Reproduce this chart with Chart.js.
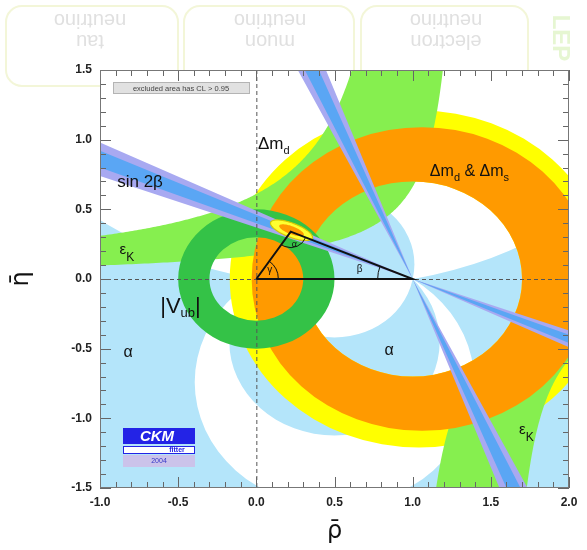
<!DOCTYPE html>
<html>
<head>
<meta charset="utf-8">
<title>CKM unitarity triangle constraints</title>
<script src="https://cdn.jsdelivr.net/npm/chart.js@4.4.1/dist/chart.umd.min.js"></script>
<style>
html,body{margin:0;padding:0;background:#fff;}
#box{width:587px;height:550px;}
</style>
</head>
<body>
<div id="box"><canvas id="ckm" width="587" height="550"></canvas></div>
<script>
// ---- axes ----
const rhoRange = [-1.0, 2.0];
const etaRange = [-1.5, 1.5];
const rhoTickLabels = [-1.0, -0.5, 0.0, 0.5, 1.0, 1.5, 2.0];
const etaTickLabels = [-1.5, -1.0, -0.5, 0.0, 0.5, 1.0, 1.5];

// ---- alpha: allowed ranges (degrees) of the angle seen from (rho, eta) ----
const alphaAbove = [[0, 11], [78, 180]];
const alphaBelow = [[0, 34], [48, 100]];

// ---- Delta m_d and Delta m_d & Delta m_s rings: [rho, eta, radius] ----
const dmdOuter = [1.04, 0.0, 1.21];
const dmdInner = [1.0, 0.0, 0.70];
const dmsOuter = [1.06, 0.0, 1.09];
const dmsInner = [1.0, 0.0, 0.70];

// ---- |Vub| ring around the origin: [inner, outer] radius ----
const vubRadii = [0.30, 0.50];

// ---- eps_K hyperbolae  eta * (a - rho) = k  as [a, k] ----
const epsUpperNear = [1.345, 0.228];
const epsUpperFar = [1.03, 0.629];
const epsLowerNear = [0.95, 0.30];
const epsLowerFar = [1.56, 0.255];

// ---- sin 2beta: tan(beta) limits ----
const sin2bWide = [0.37, 0.49];
const sin2bCore = [0.40, 0.46];

// ---- global fit ----
const apex = [0.22, 0.34];
const fitOuter = [0.225, 0.35, 0.145, 0.05];   // centre rho, eta, semi-axes
const fitInner = [0.225, 0.35, 0.085, 0.028];

const C = {
  alpha: '#b4e5fa', dmd: '#ffff00', dms: '#ff9a00', eps: '#86ef4f', vub: '#34c247',
  s2bWide: '#a8a9f1', s2bCore: '#5aa6f4', fitOuter: '#ffff30', fitInner: '#ff9a00'
};
const FONT = '"Liberation Sans", Arial, Helvetica, sans-serif';

function P(chart, r, e) {
  return [chart.scales.x.getPixelForValue(r), chart.scales.y.getPixelForValue(e)];
}

function addCircle(chart, ctx, cr, ce, rad) {
  const [px, py] = P(chart, cr, ce);
  const rx = Math.abs(chart.scales.x.getPixelForValue(cr + rad) - px);
  const ry = Math.abs(chart.scales.y.getPixelForValue(ce + rad) - py);
  ctx.moveTo(px + rx, py);
  ctx.ellipse(px, py, rx, ry, 0, 0, Math.PI * 2);
}

// region where the apex angle lies in [lo, hi] on one side of the rho axis
function fillAlpha(chart, ctx, side, lo, hi) {
  const a = chart.chartArea;
  const y0 = chart.scales.y.getPixelForValue(0);
  ctx.save();
  ctx.beginPath();
  if (side > 0) ctx.rect(a.left, a.top, a.width, y0 - a.top + 0.5);
  else ctx.rect(a.left, y0 - 0.5, a.width, a.bottom - y0 + 0.5);
  ctx.clip();
  ctx.beginPath();
  const circ = deg => {
    const t = deg * Math.PI / 180;
    addCircle(chart, ctx, 0.5, side * 0.5 / Math.tan(t), 0.5 / Math.sin(t));
  };
  if (lo > 0) circ(lo); else ctx.rect(a.left - 5, a.top - 5, a.width + 10, a.height + 10);
  if (hi < 180) circ(hi);
  ctx.fillStyle = C.alpha;
  ctx.fill('evenodd');
  ctx.restore();
}

function fillRing(chart, ctx, outer, inner, color) {
  ctx.beginPath();
  addCircle(chart, ctx, outer[0], outer[1], outer[2]);
  addCircle(chart, ctx, inner[0], inner[1], inner[2]);
  ctx.fillStyle = color;
  ctx.fill('evenodd');
}

function hyperbola(ak, e0, e1, n) {
  const pts = [];
  for (let i = 0; i <= n; i++) {
    const eta = e0 * Math.pow(e1 / e0, i / n);
    pts.push([ak[0] - ak[1] / eta, eta]);
  }
  return pts;
}

function fillEps(chart, ctx) {
  const rhoLo = -1.3, rhoHi = 2.3, etaCap = 1.7;
  const up = hyperbola(epsUpperNear, epsUpperNear[1] / (epsUpperNear[0] - rhoLo), etaCap, 240)
    .concat(hyperbola(epsUpperFar, etaCap, epsUpperFar[1] / (epsUpperFar[0] - rhoLo), 240));
  const low = hyperbola(epsLowerNear, -etaCap, -epsLowerNear[1] / (rhoHi - epsLowerNear[0]), 240)
    .concat(hyperbola(epsLowerFar, -epsLowerFar[1] / (rhoHi - epsLowerFar[0]), -etaCap, 240));
  ctx.beginPath();
  [up, low].forEach(poly => {
    poly.forEach((p, i) => {
      const [x, y] = P(chart, p[0], p[1]);
      if (i) ctx.lineTo(x, y); else ctx.moveTo(x, y);
    });
    ctx.closePath();
  });
  ctx.fillStyle = C.eps;
  ctx.fill();
}

// double wedge through (1,0): eta = m (1 - rho), m between m0 and m1
function fillWedge(chart, ctx, m0, m1, color) {
  ctx.beginPath();
  [-3, 5].forEach(r => {
    const o = P(chart, 1, 0), p0 = P(chart, r, m0 * (1 - r)), p1 = P(chart, r, m1 * (1 - r));
    ctx.moveTo(o[0], o[1]); ctx.lineTo(p0[0], p0[1]); ctx.lineTo(p1[0], p1[1]); ctx.closePath();
  });
  ctx.fillStyle = color;
  ctx.fill();
}

function fitEllipse(chart, ctx, e, color, stroke) {
  const ang = Math.atan(-apex[1] / (1 - apex[0]));
  const ux = Math.cos(ang), uy = Math.sin(ang);
  ctx.beginPath();
  for (let i = 0; i <= 90; i++) {
    const t = i / 90 * 2 * Math.PI;
    const r = e[0] + e[2] * Math.cos(t) * ux - e[3] * Math.sin(t) * uy;
    const h = e[1] + e[2] * Math.cos(t) * uy + e[3] * Math.sin(t) * ux;
    const [x, y] = P(chart, r, h);
    if (i) ctx.lineTo(x, y); else ctx.moveTo(x, y);
  }
  ctx.closePath();
  ctx.fillStyle = color;
  ctx.fill();
  if (stroke) { ctx.strokeStyle = stroke; ctx.lineWidth = 1.2; ctx.stroke(); }
}

function richText(ctx, x, y, parts, color) {
  let cx = x;
  ctx.fillStyle = color || '#111';
  ctx.textAlign = 'left';
  ctx.textBaseline = 'alphabetic';
  parts.forEach(([t, s, dy]) => {
    ctx.font = s + 'px ' + FONT;
    ctx.fillText(t, cx, y + (dy || 0));
    cx += ctx.measureText(t).width;
  });
}

const backdrop = {
  id: 'backdrop',
  beforeDraw(chart) {
    const ctx = chart.ctx;
    ctx.save();
    ctx.fillStyle = '#fff';
    ctx.fillRect(0, 0, chart.width, chart.height);
    ctx.strokeStyle = '#f3f6d8';
    ctx.lineWidth = 2;
    [[6, 178], [184, 354], [361, 528]].forEach(([x0, x1]) => {
      ctx.beginPath();
      ctx.roundRect(x0, 6, x1 - x0, 80, 16);
      ctx.stroke();
    });
    ctx.fillStyle = '#e0e0e0';
    ctx.font = '20px ' + FONT;
    ctx.textAlign = 'center';
    ctx.textBaseline = 'middle';
    [['tau', 90], ['muon', 270], ['electron', 446]].forEach(([w, cx]) => {
      ctx.save();
      ctx.translate(cx, 31);
      ctx.rotate(Math.PI);
      ctx.fillText(w, 0, -10);
      ctx.fillText('neutrino', 0, 11);
      ctx.restore();
    });
    ctx.save();
    ctx.translate(560, 38);
    ctx.rotate(Math.PI / 2);
    ctx.fillStyle = '#e6f6d2';
    ctx.font = 'bold 24px ' + FONT;
    ctx.fillText('LEP', 0, 0);
    ctx.restore();
    ctx.restore();
  }
};

const regions = {
  id: 'regions',
  beforeDatasetsDraw(chart) {
    const ctx = chart.ctx, a = chart.chartArea;
    ctx.save();
    ctx.beginPath();
    ctx.rect(a.left, a.top, a.width, a.height);
    ctx.clip();
    ctx.fillStyle = '#fff';
    ctx.fillRect(a.left, a.top, a.width, a.height);

    alphaAbove.forEach(r => fillAlpha(chart, ctx, 1, r[0], r[1]));
    alphaBelow.forEach(r => fillAlpha(chart, ctx, -1, r[0], r[1]));
    fillRing(chart, ctx, dmdOuter, dmdInner, C.dmd);
    fillEps(chart, ctx);
    fillRing(chart, ctx, dmsOuter, dmsInner, C.dms);
    fillRing(chart, ctx, [0, 0, vubRadii[1]], [0, 0, vubRadii[0]], C.vub);

    fillWedge(chart, ctx, sin2bWide[0], sin2bWide[1], C.s2bWide);
    fillWedge(chart, ctx, 1 / sin2bWide[1], 1 / sin2bWide[0], C.s2bWide);
    fillWedge(chart, ctx, sin2bCore[0], sin2bCore[1], C.s2bCore);
    fillWedge(chart, ctx, 1 / sin2bCore[1], 1 / sin2bCore[0], C.s2bCore);

    fitEllipse(chart, ctx, fitOuter, C.fitOuter, '#d8c800');
    fitEllipse(chart, ctx, fitInner, C.fitInner, null);

    // dashed reference lines through the origin
    const [x0, y0] = P(chart, 0, 0);
    ctx.setLineDash([4, 3]);
    ctx.strokeStyle = '#555';
    ctx.lineWidth = 1;
    ctx.beginPath();
    ctx.moveTo(x0 + 0.5, a.top); ctx.lineTo(x0 + 0.5, a.bottom);
    ctx.moveTo(a.left, y0 + 0.5); ctx.lineTo(a.right, y0 + 0.5);
    ctx.stroke();
    ctx.setLineDash([]);
    ctx.restore();
  }
};

const overlay = {
  id: 'overlay',
  afterDatasetsDraw(chart) {
    const ctx = chart.ctx, a = chart.chartArea;
    ctx.save();

    // angle arcs of the triangle
    const O = P(chart, 0, 0), B = P(chart, 1, 0), A = P(chart, apex[0], apex[1]);
    ctx.strokeStyle = '#111';
    ctx.lineWidth = 1;
    const angOA = Math.atan2(A[1] - O[1], A[0] - O[0]);
    ctx.beginPath(); ctx.arc(O[0], O[1], 22, angOA, 0); ctx.stroke();
    const angBA = Math.atan2(A[1] - B[1], A[0] - B[0]);
    ctx.beginPath(); ctx.arc(B[0], B[1], 35, Math.PI, angBA + 2 * Math.PI); ctx.stroke();
    const angAO = Math.atan2(O[1] - A[1], O[0] - A[0]);
    const angAB = Math.atan2(B[1] - A[1], B[0] - A[0]);
    ctx.beginPath(); ctx.arc(A[0], A[1], 16, angAB, angAO); ctx.stroke();
    richText(ctx, O[0] + 11, O[1] - 6, [['γ', 10]]);
    richText(ctx, B[0] - 56, B[1] - 7, [['β', 10]]);
    richText(ctx, A[0] + 1, A[1] + 15, [['α', 9]]);

    // constraint labels
    const at = (r, e) => P(chart, r, e);
    let p;
    p = at(0.01, 0.93); richText(ctx, p[0], p[1], [['Δm', 17], ['d', 11, 5]]);
    p = at(1.11, 0.74); richText(ctx, p[0], p[1], [['Δm', 16], ['d', 11, 5], [' & Δm', 16], ['s', 11, 5]]);
    p = at(-0.89, 0.66); richText(ctx, p[0], p[1], [['sin 2β', 17]]);
    p = at(-0.875, 0.18); richText(ctx, p[0], p[1], [['ε', 15], ['K', 12, 7]]);
    p = at(1.68, -1.11); richText(ctx, p[0], p[1], [['ε', 15], ['K', 12, 7]]);
    p = at(-0.615, -0.245); richText(ctx, p[0], p[1], [['|V', 22], ['ub', 13, 4], ['|', 22]]);
    p = at(-0.85, -0.56); richText(ctx, p[0], p[1], [['α', 16]]);
    p = at(0.82, -0.545); richText(ctx, p[0], p[1], [['α', 16]]);

    // confidence note
    ctx.fillStyle = '#e1e1e1';
    ctx.fillRect(a.left + 13, a.top + 12, 137, 12);
    ctx.strokeStyle = '#b4b4b4';
    ctx.strokeRect(a.left + 13.5, a.top + 12.5, 136, 11);
    ctx.fillStyle = '#444';
    ctx.font = '7.5px ' + FONT;
    ctx.textAlign = 'center';
    ctx.textBaseline = 'middle';
    ctx.fillText('excluded area has CL > 0.95', a.left + 81, a.top + 18.5);

    // group logo
    const lx = a.left + 23, ly = a.top + 358;
    ctx.fillStyle = '#2323e6';
    ctx.fillRect(lx, ly, 72, 16);
    ctx.fillStyle = '#fff';
    ctx.font = 'italic bold 15px ' + FONT;
    ctx.fillText('CKM', lx + 34, ly + 9);
    ctx.fillStyle = '#fff';
    ctx.fillRect(lx, ly + 18, 72, 8);
    ctx.strokeStyle = '#2323e6';
    ctx.lineWidth = 1;
    ctx.strokeRect(lx + 0.5, ly + 18.5, 71, 7);
    ctx.fillStyle = '#2323e6';
    ctx.font = 'bold 7px ' + FONT;
    ctx.fillText('fitter', lx + 54, ly + 22.5);
    ctx.fillStyle = '#cbc3ea';
    ctx.fillRect(lx, ly + 27, 72, 12);
    ctx.fillStyle = '#3535c8';
    ctx.font = '7px ' + FONT;
    ctx.fillText('2004', lx + 36, ly + 33.5);

    // inward ticks on all four sides
    const xs = chart.scales.x, ys = chart.scales.y;
    ctx.strokeStyle = '#666';
    ctx.lineWidth = 1;
    ctx.beginPath();
    for (let i = 0; i <= 30; i++) {
      const v = rhoRange[0] + i * 0.1;
      const xp = Math.round(xs.getPixelForValue(v)) + 0.5;
      const len = i % 5 === 0 ? 11 : 6;
      ctx.moveTo(xp, a.bottom); ctx.lineTo(xp, a.bottom - len);
      ctx.moveTo(xp, a.top); ctx.lineTo(xp, a.top + len);
    }
    for (let i = 0; i <= 30; i++) {
      const v = etaRange[0] + i * 0.1;
      const yp = Math.round(ys.getPixelForValue(v)) + 0.5;
      const len = i % 5 === 0 ? 11 : 6;
      ctx.moveTo(a.left, yp); ctx.lineTo(a.left + len, yp);
      ctx.moveTo(a.right, yp); ctx.lineTo(a.right - len, yp);
    }
    ctx.stroke();
    ctx.strokeStyle = '#777';
    ctx.strokeRect(a.left + 0.5, a.top + 0.5, a.width - 1, a.height - 1);

    // axis titles
    ctx.fillStyle = '#111';
    ctx.font = '24px "DejaVu Sans", sans-serif';
    ctx.textAlign = 'center';
    ctx.textBaseline = 'middle';
    ctx.fillText('ρ\u0304', (a.left + a.right) / 2, 532);
    ctx.save();
    ctx.translate(22, ys.getPixelForValue(0));
    ctx.rotate(-Math.PI / 2);
    ctx.fillText('η\u0304', 0, 0);
    ctx.restore();

    ctx.restore();
  }
};

const tickFont = { family: FONT, size: 12, weight: 'bold' };

new Chart(document.getElementById('ckm'), {
  type: 'scatter',
  data: {
    datasets: [{
      data: [
        { x: 0, y: 0 },
        { x: apex[0], y: apex[1] },
        { x: 1, y: 0 },
        { x: 0, y: 0 }
      ],
      showLine: true,
      borderColor: '#111',
      borderWidth: 2,
      pointRadius: 0,
      fill: false,
      tension: 0
    }]
  },
  options: {
    responsive: false,
    animation: false,
    devicePixelRatio: 1,
    layout: { padding: { top: 70, right: 18, left: 0, bottom: 0 } },
    plugins: { legend: { display: false }, tooltip: { enabled: false } },
    scales: {
      x: {
        type: 'linear',
        min: rhoRange[0], max: rhoRange[1],
        afterBuildTicks: s => { s.ticks = rhoTickLabels.map(v => ({ value: v })); },
        afterFit: s => { s.height = 62; },
        ticks: { font: tickFont, color: '#222', padding: 7, maxRotation: 0, autoSkip: false,
                 callback: v => Number(v).toFixed(1) },
        grid: { display: false, drawTicks: false },
        border: { display: false }
      },
      y: {
        type: 'linear',
        min: etaRange[0], max: etaRange[1],
        afterBuildTicks: s => { s.ticks = etaTickLabels.map(v => ({ value: v })); },
        afterFit: s => { s.width = 100; },
        ticks: { font: tickFont, color: '#222', padding: 8, autoSkip: false,
                 callback: v => Number(v).toFixed(1) },
        grid: { display: false, drawTicks: false },
        border: { display: false }
      }
    }
  },
  plugins: [backdrop, regions, overlay]
});
</script>
</body>
</html>
